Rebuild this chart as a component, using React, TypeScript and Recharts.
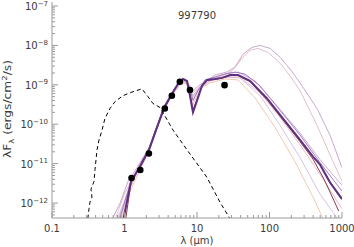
import React from "react";
import { ComposedChart, Line, XAxis, YAxis } from "recharts";

type Pt = [number, number]; // [wavelength (um), lambda F_lambda (erg/cm2/s)]

const photometry: Pt[] = [
  [1.25, 4.3e-12], [1.65, 6.9e-12], [2.17, 1.8e-11], [3.6, 2.5e-10],
  [4.5, 5.3e-10], [5.8, 1.2e-9], [8.0, 7.4e-10], [24, 9.8e-10],
];

const photosphere: Pt[] = [
  [0.312, 4.0e-13], [0.324, 7.1e-13], [0.334, 1.06e-12], [0.356, 1.41e-12],
  [0.345, 2.24e-12], [0.38, 3.55e-12], [0.392, 7.1e-12], [0.405, 1.26e-11],
  [0.418, 2.24e-11], [0.445, 3.98e-11], [0.49, 7.1e-11], [0.538, 1.41e-10],
  [0.631, 2.51e-10], [0.74, 3.76e-10], [0.953, 5.3e-10], [1.31, 6.7e-10],
  [1.74, 7.9e-10], [2.11, 5.0e-10], [2.47, 3.35e-10], [3.09, 2.66e-10],
  [4.67, 7.1e-11], [7.28, 2.24e-11], [13.7, 4.5e-12], [20.7, 1.06e-12],
  [28.5, 4.0e-13],
];

const modelBest: Pt[] = [
  [0.97, 4.0e-13], [1.23, 3.55e-12], [1.69, 9.4e-12], [2.18, 2.24e-11],
  [2.72, 7.1e-11], [3.5, 2.51e-10], [4.52, 5.96e-10], [5.47, 1.06e-9],
  [6.41, 1.41e-9], [7.28, 1.26e-9], [8.0, 5.3e-10], [8.8, 2.0e-10],
  [10.0, 3.98e-10], [11.7, 9.4e-10], [13.7, 1.33e-9], [17.7, 1.41e-9],
  [22.1, 1.5e-9], [28.5, 1.78e-9], [36.8, 1.78e-9], [53.8, 1.26e-9],
  [92.5, 4.5e-10], [153, 1.41e-10], [264, 3.98e-11], [398, 1.5e-11],
  [498, 9.4e-12], [683, 3.35e-12], [1000, 1.26e-12],
];

const modelRed: Pt[] = [
  [1.04, 4.0e-13], [1.23, 3.3e-12], [1.69, 9.0e-12], [2.18, 2.2e-11],
  [2.72, 7.0e-11], [3.5, 2.5e-10], [4.52, 5.9e-10], [5.47, 1.04e-9],
  [6.41, 1.38e-9], [7.28, 1.22e-9], [8.0, 5.6e-10], [8.8, 2.3e-10],
  [10.0, 4.2e-10], [11.7, 9.2e-10], [13.7, 1.3e-9], [17.7, 1.38e-9],
  [22.1, 1.48e-9], [28.5, 1.72e-9], [36.8, 1.72e-9], [53.8, 1.2e-9],
  [92.5, 4.2e-10], [153, 1.3e-10], [264, 3.6e-11], [398, 1.3e-11],
  [583, 3.6e-12], [900, 6.3e-13],
];

const modelPurple: Pt[] = [
  [0.86, 4.0e-13], [1.19, 3.0e-12], [1.69, 1.06e-11], [2.18, 2.51e-11],
  [3.5, 2.82e-10], [4.52, 6.3e-10], [5.65, 1.19e-9], [6.82, 1.41e-9],
  [8.0, 7.9e-10], [8.8, 3.98e-10], [10.3, 7.1e-10], [12.9, 1.33e-9],
  [17.7, 1.58e-9], [24.3, 1.88e-9], [33.4, 2.11e-9], [45.9, 1.88e-9],
  [74, 9.4e-10], [140, 2.24e-10], [264, 5.3e-11], [498, 1.06e-11],
  [1000, 2.0e-12],
];

const modelLavender: Pt[] = [
  [0.83, 4.0e-13], [1.19, 2.51e-12], [1.69, 1.0e-11], [2.18, 2.37e-11],
  [3.5, 2.66e-10], [4.52, 5.96e-10], [5.84, 1.12e-9], [7.05, 1.33e-9],
  [8.8, 5.3e-10], [11.0, 8.9e-10], [15.1, 1.41e-9], [24.3, 1.88e-9],
  [36.8, 2.11e-9], [63, 1.26e-9], [119, 3.35e-10], [264, 5.96e-11],
  [498, 1.26e-11], [1000, 2.82e-12],
];

const modelHighA: Pt[] = [
  [0.68, 4.0e-13], [0.87, 1.0e-12], [1.12, 3.55e-12], [1.49, 7.9e-12],
  [2.18, 2.51e-11], [2.8, 8.4e-11], [3.5, 2.82e-10], [4.52, 6.3e-10],
  [5.84, 1.19e-9], [7.05, 1.33e-9], [8.8, 7.1e-10], [11.0, 1.0e-9],
  [13.7, 1.26e-9], [17.7, 1.78e-9], [25.9, 2.11e-9], [33.4, 2.82e-9],
  [43.1, 5.96e-9], [57.4, 8.9e-9], [74, 1.0e-8], [102, 8.4e-9],
  [140, 5.0e-9], [192, 2.51e-9], [264, 1.12e-9], [452, 2.51e-10],
  [683, 5.3e-11], [1000, 7.9e-12],
];

const modelHighB: Pt[] = [
  [0.75, 4.0e-13], [0.98, 1.58e-12], [1.31, 4.5e-12], [1.69, 9.4e-12],
  [2.18, 2.37e-11], [3.5, 2.66e-10], [4.52, 5.96e-10], [5.84, 1.12e-9],
  [7.05, 1.26e-9], [8.8, 6.3e-10], [11.0, 8.9e-10], [15.1, 1.26e-9],
  [20.7, 1.58e-9], [30.4, 2.24e-9], [43.1, 5.0e-9], [53.8, 7.5e-9],
  [69.3, 8.4e-9], [95, 6.7e-9], [140, 3.55e-9], [192, 1.68e-9],
  [264, 7.1e-10], [452, 9.4e-11], [683, 1.68e-11], [1000, 3.55e-12],
];

const modelLowLavender: Pt[] = [
  [0.8, 4.0e-13], [1.08, 1.68e-12], [1.49, 6.3e-12], [2.18, 2.24e-11],
  [3.5, 2.51e-10], [4.52, 5.6e-10], [5.84, 1.06e-9], [7.05, 1.19e-9],
  [8.8, 5.0e-10], [11.0, 8.9e-10], [15.1, 1.26e-9], [24.3, 1.58e-9],
  [39.2, 1.5e-9], [74, 5.3e-10], [140, 9.4e-11], [264, 1.41e-11],
  [498, 1.68e-12], [870, 4.0e-13],
];

const modelPeach: Pt[] = [
  [0.91, 4.0e-13], [1.23, 2.24e-12], [1.69, 7.9e-12], [2.18, 2.11e-11],
  [3.5, 2.37e-10], [4.52, 5.3e-10], [5.84, 1.0e-9], [7.05, 1.12e-9],
  [8.8, 4.5e-10], [11.0, 7.9e-10], [15.1, 1.12e-9], [24.3, 1.41e-9],
  [36.8, 1.33e-9], [63, 4.7e-10], [119, 8.4e-11], [225, 1.12e-11],
  [425, 1.12e-12], [545, 4.0e-13],
];

const modelPink: Pt[] = [
  [0.88, 4.0e-13], [1.23, 2.82e-12], [1.69, 9.4e-12], [2.18, 2.24e-11],
  [3.5, 2.51e-10], [4.52, 5.6e-10], [5.84, 1.06e-9], [7.05, 1.26e-9],
  [8.8, 3.16e-10], [11.0, 7.9e-10], [15.1, 1.26e-9], [24.3, 1.58e-9],
  [39.2, 1.58e-9], [74, 6.3e-10], [140, 1.5e-10], [264, 3.0e-11],
  [498, 5.3e-12], [1000, 7.1e-13],
];

const xMajor = [0.1, 1, 10, 100, 1000];
const xLabels = ["0.1", "1", "10", "100", "1000"];
const yMajor = [1e-12, 1e-11, 1e-10, 1e-9, 1e-8, 1e-7];
const yExponents = ["−12", "−11", "−10", "−9", "−8", "−7"];

const X_DOMAIN: [number, number] = [0.1, 1000];
const Y_DOMAIN: [number, number] = [4.17e-13, 1.265e-7];

const minorSteps = [2, 3, 4, 5, 6, 7, 8, 9];
const xTicks = [
  ...xMajor,
  ...[0.1, 1, 10, 100].flatMap((d) => minorSteps.map((m) => +(d * m).toPrecision(3))),
];
const yTicks = [
  ...yMajor,
  ...[1e-13, 1e-12, 1e-11, 1e-10, 1e-9, 1e-8]
    .flatMap((d) => minorSteps.map((m) => +(d * m).toPrecision(3)))
    .filter((v) => v >= Y_DOMAIN[0] && v <= Y_DOMAIN[1]),
];

const AXIS = "#9a9a9a";
const TEXT = "#3a3a3a";
const FONT = "DejaVu Sans, sans-serif";
const MAJOR = 6;
const MINOR = 3;

const pts = (arr: Pt[]) => arr.map(([lam, f]) => ({ lam, f }));

const BottomTick = (props: any) => {
  const { x, y, payload } = props;
  const i = xMajor.indexOf(payload.value);
  const len = i >= 0 ? MAJOR : MINOR;
  return (
    <g>
      <line x1={x} x2={x} y1={y} y2={y - len} stroke={AXIS} />
      {i >= 0 && (
        <text x={x} y={y + 14} textAnchor="middle" fontSize={10} fill={TEXT} fontFamily={FONT}>
          {xLabels[i]}
        </text>
      )}
    </g>
  );
};

const TopTick = (props: any) => {
  const { x, y, payload } = props;
  const len = xMajor.includes(payload.value) ? MAJOR : MINOR;
  return <line x1={x} x2={x} y1={y} y2={y + len} stroke={AXIS} />;
};

const LeftTick = (props: any) => {
  const { x, y, payload } = props;
  const i = yMajor.indexOf(payload.value);
  const len = i >= 0 ? MAJOR : MINOR;
  return (
    <g>
      <line x1={x} x2={x + len} y1={y} y2={y} stroke={AXIS} />
      {i >= 0 && (
        <text x={x - 4} y={y + 4} textAnchor="end" fontSize={10} fill={TEXT} fontFamily={FONT}>
          10
          <tspan dy={-4.5} fontSize={7}>{yExponents[i]}</tspan>
        </text>
      )}
    </g>
  );
};

const RightTick = (props: any) => {
  const { x, y, payload } = props;
  const len = yMajor.includes(payload.value) ? MAJOR : MINOR;
  return <line x1={x} x2={x - len} y1={y} y2={y} stroke={AXIS} />;
};

const series = [
  { data: modelPeach, color: "#f1c9b4", width: 1 },
  { data: modelLowLavender, color: "#d6c2e2", width: 1 },
  { data: modelPink, color: "#e9bcc8", width: 1 },
  { data: modelHighB, color: "#e2bfca", width: 1 },
  { data: modelHighA, color: "#c9a8ce", width: 1 },
  { data: modelLavender, color: "#c8addb", width: 1 },
  { data: modelPurple, color: "#a47cbc", width: 1 },
  { data: modelRed, color: "#8a3b4a", width: 1 },
  { data: modelBest, color: "#5f2f80", width: 2 },
];

export default function App() {
  return (
    <div style={{ position: "absolute", left: 0, top: 0, width: 354, height: 247, background: "#fff" }}>
      <ComposedChart width={354} height={247} margin={{ top: 2, right: 12, bottom: 0, left: 0 }}>
        <XAxis
          dataKey="lam" type="number" scale="log" domain={X_DOMAIN} allowDataOverflow
          ticks={xTicks} interval={0} tick={<BottomTick />} tickLine={false}
          tickSize={0} tickMargin={0} height={29} axisLine={{ stroke: AXIS }}
        />
        <XAxis
          xAxisId="top" orientation="top" dataKey="lam" type="number" scale="log"
          domain={X_DOMAIN} allowDataOverflow ticks={xTicks} interval={0} tick={<TopTick />}
          tickLine={false} tickSize={0} tickMargin={0} height={0} axisLine={{ stroke: AXIS }}
        />
        <YAxis
          dataKey="f" type="number" scale="log" domain={Y_DOMAIN} allowDataOverflow
          ticks={yTicks} interval={0} tick={<LeftTick />} tickLine={false}
          tickSize={0} tickMargin={0} width={52} axisLine={{ stroke: AXIS }}
        />
        <YAxis
          yAxisId="right" orientation="right" dataKey="f" type="number" scale="log"
          domain={Y_DOMAIN} allowDataOverflow ticks={yTicks} interval={0} tick={<RightTick />}
          tickLine={false} tickSize={0} tickMargin={0} width={0} axisLine={{ stroke: AXIS }}
        />
        {series.map((s, i) => (
          <Line
            key={i} data={pts(s.data)} dataKey="f" type="linear" stroke={s.color}
            strokeWidth={s.width} dot={false} isAnimationActive={false}
          />
        ))}
        <Line
          data={pts(photosphere)} dataKey="f" type="linear" stroke="#000" strokeWidth={1}
          strokeDasharray="4 3" dot={false} isAnimationActive={false}
        />
        <Line
          data={pts(photometry)} dataKey="f" stroke="none"
          dot={{ r: 3.3, fill: "#000", stroke: "#000", strokeWidth: 0 }} isAnimationActive={false}
        />
      </ComposedChart>
      <svg
        width={354} height={247}
        style={{ position: "absolute", left: 0, top: 0, pointerEvents: "none" }}
        fontFamily={FONT} fill={TEXT}
      >
        <text x={197} y={19} textAnchor="middle" fontSize={10}>997790</text>
        <text x={197} y={244} textAnchor="middle" fontSize={10}>λ (μm)</text>
        <text
          x={11} y={109} textAnchor="middle" fontSize={10} transform="rotate(-90 11 109)"
          textLength={98} lengthAdjust="spacingAndGlyphs"
        >
          λF<tspan dy={3} fontSize={7}>λ</tspan>
          <tspan dy={-3}> (ergs/cm</tspan>
          <tspan dy={-4} fontSize={7}>2</tspan>
          <tspan dy={4}>/s)</tspan>
        </text>
      </svg>
    </div>
  );
}
